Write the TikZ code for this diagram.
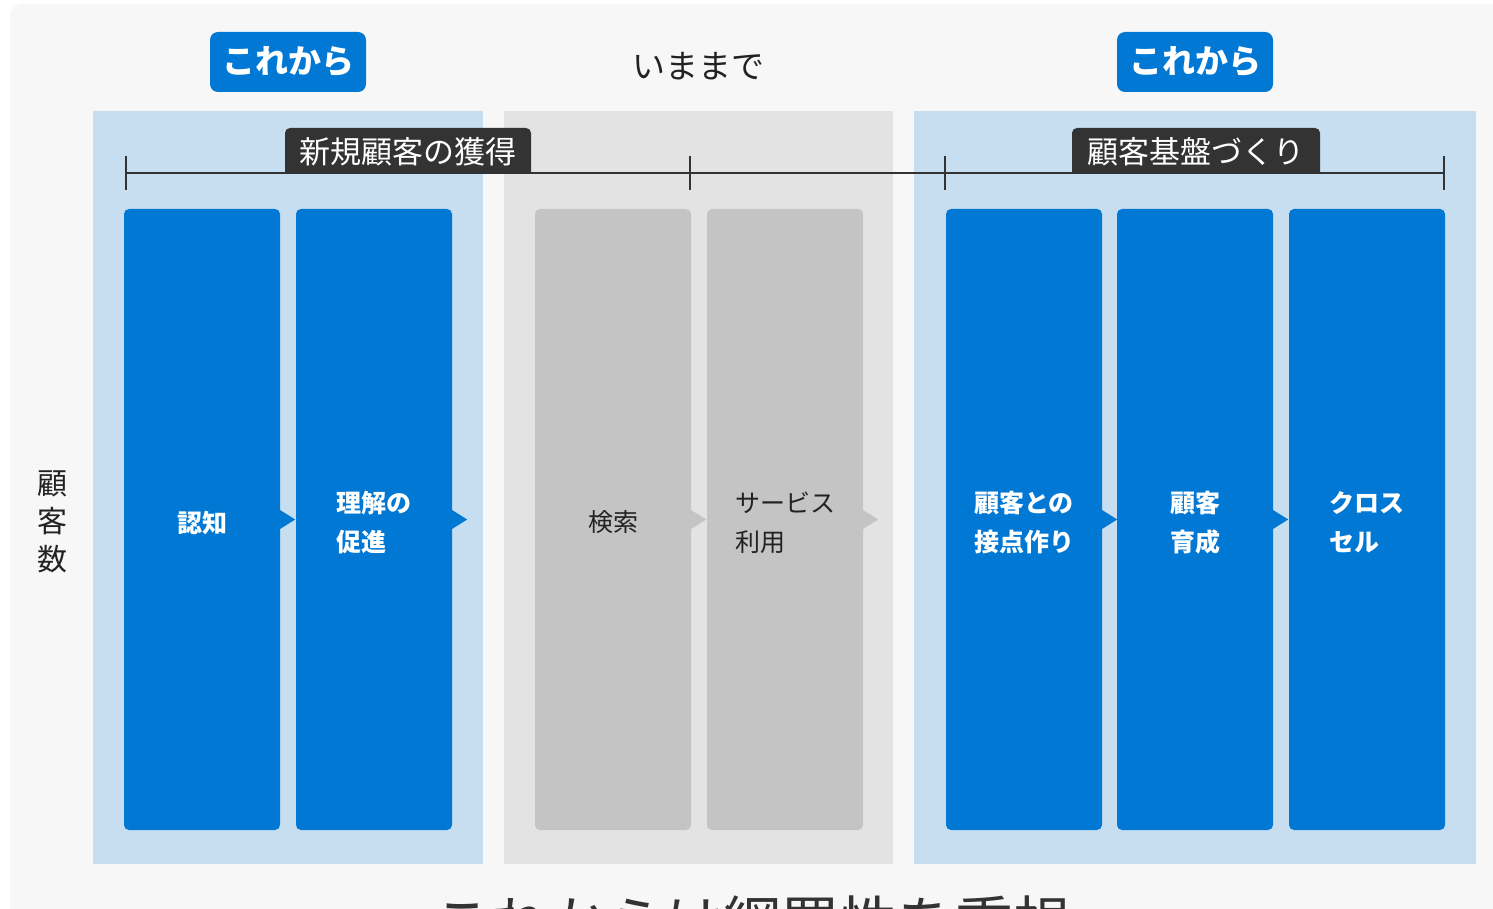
\documentclass[tikz,border=0pt]{standalone}
\usepackage{fontspec}
\setmainfont{Noto Sans CJK JP}
\usetikzlibrary{calc}
\definecolor{outerbg}{HTML}{FFFFFF}
\definecolor{bgc}{HTML}{F7F7F7}
\definecolor{msblue}{HTML}{0078D4}
\definecolor{lblue}{HTML}{C7DEF1}
\definecolor{midgray}{HTML}{E3E3E3}
\definecolor{boxgray}{HTML}{C4C4C4}
\definecolor{darklab}{HTML}{333333}
\definecolor{txt}{HTML}{222222}
\begin{document}
\begin{tikzpicture}[x=1pt,y=-1pt,
  badge/.style={fill=msblue,rounded corners=8pt,minimum width=156pt,minimum height=60pt,inner sep=0pt,text=white,font=\bfseries\fontsize{33}{33}\selectfont},
  stage/.style={rounded corners=5pt,minimum width=156pt,minimum height=621pt,inner sep=0pt},
  bluestage/.style={stage,fill=msblue},
  graystage/.style={stage,fill=boxgray},
  stagetext/.style={inner sep=0pt,align=left,font=\fontsize{25}{39}\selectfont},
  bluetext/.style={stagetext,text=white,font=\bfseries\fontsize{25}{39}\selectfont},
  graytext/.style={stagetext,text=txt},
  labeltext/.style={inner sep=0pt,text=white,font=\fontsize{31}{31}\selectfont},
  bracketline/.style={draw=darklab,line width=1.3pt}
]
\clip (0,0) rectangle (1493,909);
\fill[outerbg] (0,0) rectangle (1493,909);
\fill[bgc,rounded corners=12pt] (10,4) rectangle (1520,940);

% headers
\node[badge] (newL) at (288,62) {これから};
\node[badge] (newR) at (1195,62) {これから};
\node[text=txt,font=\fontsize{33}{33}\selectfont] (past) at (698,66) {いままで};

% panels
\fill[lblue] (93,111) rectangle (483,864);
\fill[midgray] (504,111) rectangle (893,864);
\fill[lblue] (914,111) rectangle (1476,864);

% bracket labels
\fill[darklab] (285,173.5) [rounded corners=5pt] -- (285,128) -- (531,128) [sharp corners] -- (531,173.5) -- cycle;
\node[labeltext] (acq) at (408,152) {新規顧客の獲得};
\fill[darklab] (1072,173.5) [rounded corners=5pt] -- (1072,128) -- (1320,128) [sharp corners] -- (1320,173.5) -- cycle;
\node[labeltext] (base) at (1196,152) {顧客基盤づくり};

% bracket
\coordinate (b0) at (126,173);
\coordinate (b1) at (690,173);
\coordinate (b2) at (945,173);
\coordinate (b3) at (1444,173);
\draw[bracketline] (b0) -- (b3);
\foreach \c in {b0,b1,b2,b3}{
  \draw[bracketline] ($(\c)+(0,-17)$) -- ($(\c)+(0,17)$);
}

% stages
\node[bluestage] (s1) at (202,519.5) {};
\node[bluestage] (s2) at (374,519.5) {};
\node[graystage] (s3) at (613,519.5) {};
\node[graystage] (s4) at (785,519.5) {};
\node[bluestage] (s5) at (1024,519.5) {};
\node[bluestage] (s6) at (1195,519.5) {};
\node[bluestage] (s7) at (1367,519.5) {};

\node[bluetext] (t1) at ($(s1.center)+(0,3)$) {認知};
\node[bluetext] (t2) at ($(s2.center)+(0,3)$) {理解の\\促進};
\node[graytext] (t3) at ($(s3.center)+(0,3)$) {検索};
\node[graytext] (t4) at ($(s4.center)+(0,3)$) {サービス\\利用};
\node[bluetext] (t5) at ($(s5.center)+(0,3)$) {顧客との\\接点作り};
\node[bluetext] (t6) at ($(s6.center)+(0,3)$) {顧客\\育成};
\node[bluetext] (t7) at ($(s7.center)+(0,3)$) {クロス\\セル};

% chevrons
\foreach \s/\col in {s1/msblue,s2/msblue,s3/boxgray,s4/boxgray,s5/msblue,s6/msblue}{
  \fill[\col] ($(\s.east)+(-1,-10)$) -- ($(\s.east)+(15,0)$) -- ($(\s.east)+(-1,10)$) -- cycle;
}

% axis label
\node[align=center,text=txt,font=\fontsize{30}{38}\selectfont] (axis) at (52,522) {顧\\客\\数};

% bottom caption (cut off, as in the reference)
\node[anchor=base,text=darklab,font=\fontsize{58}{58}\selectfont,inner sep=0pt] (caption) at (752,944) {これからは網羅性を重視};
\end{tikzpicture}
\end{document}
